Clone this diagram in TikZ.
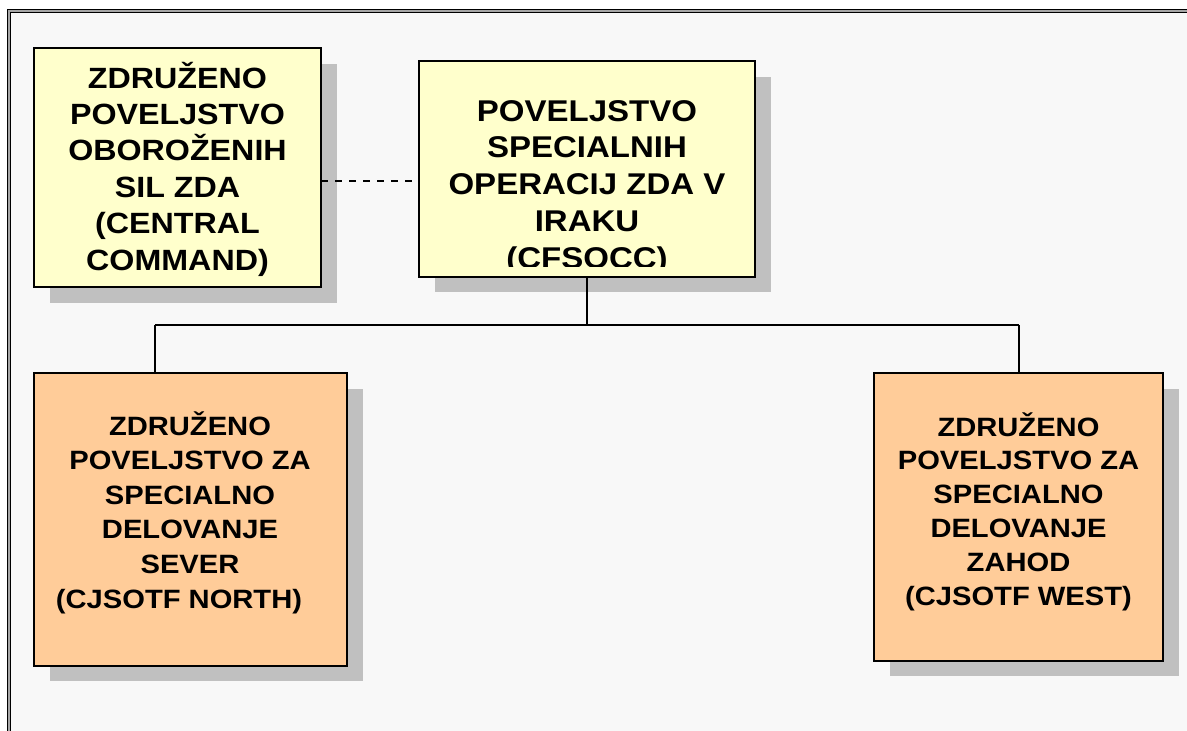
\documentclass[tikz,border=0pt]{standalone}
\usepackage{fontspec}
\setmainfont{Liberation Sans}[FakeStretch=1.1]
\usetikzlibrary{shadows}
\definecolor{bgc}{HTML}{F8F8F8}
\definecolor{framegray}{HTML}{A6A6A6}
\definecolor{yellowfill}{HTML}{FFFFCC}
\definecolor{orangefill}{HTML}{FFCC99}
\definecolor{shgray}{HTML}{C0C0C0}
\begin{document}
\begin{tikzpicture}[x=1pt,y=-1pt,
  box/.style={draw=black, line width=2pt, rectangle, inner sep=0pt, outer sep=0pt, anchor=north west,
    general shadow={shadow xshift=15.5pt, shadow yshift=-15.5pt, fill=shgray}},
  lbl/.style={anchor=base, align=center, inner sep=0pt, font=\bfseries},
  conn/.style={draw=black, line width=1.3pt},
  dashconn/.style={draw=black, line width=1.4pt, dash pattern=on 7pt off 7pt, dash phase=0pt}]
\useasboundingbox (0,0) rectangle (1187,731);
\clip (0,0) rectangle (1187,731);
% frame
\fill[white] (0,0) rectangle (1187,731);
\fill[black] (7.3,9.3) rectangle (1200,750);
\fill[framegray] (8.3,10.3) rectangle (1200,750);
\fill[black] (10,12) rectangle (1200,750);
\fill[bgc] (11,13.3) rectangle (1200,750);
% boxes
\node[box, fill=yellowfill, minimum width=287pt, minimum height=239pt] (b1) at (34,48) {};
\node[box, fill=yellowfill, minimum width=336pt, minimum height=215.5pt] (b2) at (419,61) {};
\node[box, fill=orangefill, minimum width=313pt, minimum height=292.5pt] (b3) at (34,373) {};
\node[box, fill=orangefill, minimum width=289pt, minimum height=287.5pt] (b4) at (874,373) {};
% texts (anchor = baseline of the last line)
\node[lbl, font=\bfseries\fontsize{29.3}{36.4}\selectfont] (t1) at (177.5,270)
  {ZDRUŽENO\\POVELJSTVO\\OBOROŽENIH\\SIL ZDA\\(CENTRAL\\COMMAND)};
\begin{scope}
\clip (419,61) rectangle (755,266.5);
\node[lbl, font=\bfseries\fontsize{30}{36.7}\selectfont] (t2) at (587,268)
  {POVELJSTVO\\SPECIALNIH\\OPERACIJ ZDA V\\IRAKU\\(CFSOCC)};
\end{scope}
\node[lbl, font=\bfseries\fontsize{26.5}{34.6}\selectfont] (t3) at (190,608)
  {ZDRUŽENO\\POVELJSTVO ZA\\SPECIALNO\\DELOVANJE\\SEVER\\(CJSOTF NORTH)\hspace*{22pt}};
\node[lbl, font=\bfseries\fontsize{26.5}{33.8}\selectfont] (t4) at (1018.5,605)
  {ZDRUŽENO\\POVELJSTVO ZA\\SPECIALNO\\DELOVANJE\\ZAHOD\\(CJSOTF WEST)};
% connectors
\coordinate (dy) at (0,181);
\coordinate (bl) at (155,325);
\coordinate (br) at (1019,325);
\draw[dashconn] (b1.east |- dy) -- (b2.west |- dy);
\draw[conn] (b2.south) -- (b2.south |- bl);
\draw[conn] (bl) -- (br);
\draw[conn] (bl) -- (bl |- b3.north);
\draw[conn] (br) -- (br |- b4.north);
\end{tikzpicture}
\end{document}
